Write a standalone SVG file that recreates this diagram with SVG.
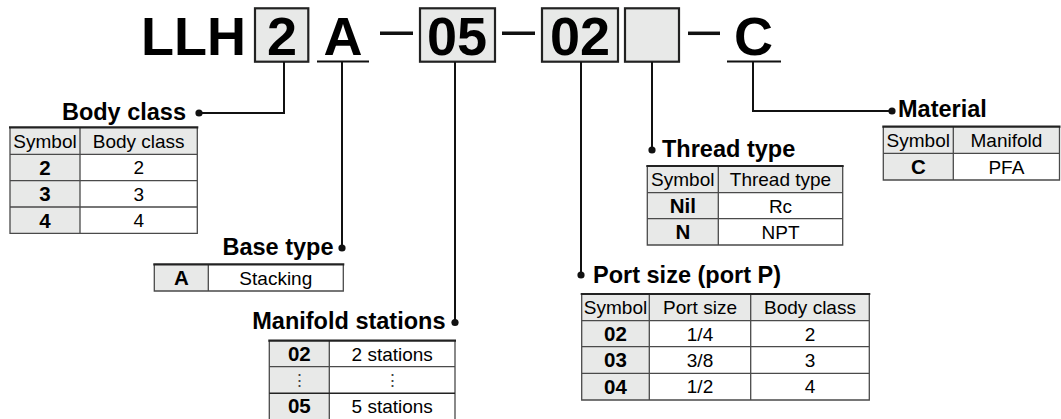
<svg xmlns="http://www.w3.org/2000/svg" width="1061" height="419" viewBox="0 0 1061 419">
<style>
text{font-family:"Liberation Sans",Arial,Helvetica,sans-serif;fill:#000}
.hdr{font-size:54px;font-weight:bold}
.lbl{font-size:23.5px;font-weight:bold}
.th{font-size:19px;text-anchor:middle}
.sym{font-size:20.5px;font-weight:bold;text-anchor:middle}
.dots{font-size:17px;text-anchor:middle;fill:#444}
.g{fill:#e8e9e8}
.w{fill:#fff}
.grid{stroke:#4a4a4a;stroke-width:1.3;fill:none}
.top{stroke:#222;stroke-width:2.2;fill:none}
.box{fill:#e8e9e8;stroke:#222;stroke-width:2.2}
.conn{stroke:#111;stroke-width:2;fill:none}
.dot{fill:#111}
.bar{stroke:#111;stroke-width:2.2}
.dash{stroke:#111;stroke-width:3.5}
</style>

<g id="title">
  <text class="hdr" x="141" y="55">LLH</text>
  <rect class="box" x="255" y="8.3" width="53.3" height="53.4"/>
  <text class="hdr" x="282" y="55" text-anchor="middle">2</text>
  <text class="hdr" x="343" y="55" text-anchor="middle">A</text>
  <line class="bar" x1="317" y1="61.5" x2="369" y2="61.5"/>
  <line class="dash" x1="380" y1="33.3" x2="413" y2="33.3"/>
  <rect class="box" x="420" y="8.3" width="75" height="53.4"/>
  <text class="hdr" x="457" y="55" text-anchor="middle">05</text>
  <line class="dash" x1="502" y1="33.3" x2="535" y2="33.3"/>
  <rect class="box" x="542" y="8.3" width="76" height="53.4"/>
  <text class="hdr" x="580" y="55" text-anchor="middle">02</text>
  <rect class="box" x="625" y="8.3" width="54" height="53.4"/>
  <line class="dash" x1="688" y1="33.3" x2="720" y2="33.3"/>
  <text class="hdr" x="753.5" y="55" text-anchor="middle">C</text>
  <line class="bar" x1="727" y1="61.5" x2="781" y2="61.5"/>
</g>

<g id="connectors">
  <polyline class="conn" points="284,62 284,113 199,113"/>
  <circle class="dot" cx="199" cy="113" r="3.6"/>
  <polyline class="conn" points="342,62 342,248"/>
  <circle class="dot" cx="342" cy="248" r="3.6"/>
  <polyline class="conn" points="455,62 455,322.5"/>
  <circle class="dot" cx="455" cy="322.5" r="3.6"/>
  <polyline class="conn" points="581,62 581,275"/>
  <circle class="dot" cx="581" cy="275" r="3.6"/>
  <polyline class="conn" points="652,62 652,150"/>
  <circle class="dot" cx="652" cy="150" r="3.6"/>
  <polyline class="conn" points="753,62 753,111 892,111"/>
  <circle class="dot" cx="892" cy="111" r="3.6"/>
</g>

<g id="body-class">
  <text class="lbl" x="186" y="120" text-anchor="end">Body class</text>
  <rect class="g" x="10" y="127.3" width="187.3" height="27"/>
  <rect class="g" x="10" y="154.3" width="70" height="79"/>
  <rect class="w" x="80" y="154.3" width="117.3" height="79"/>
  <path class="grid" d="M10,127.3V233.3H197.3V127.3M80,127.3V233.3M10,154.3H197.3M10,180.7H197.3M10,207H197.3"/>
  <line class="top" x1="9" y1="127.3" x2="198.3" y2="127.3"/>
  <text class="th" x="45" y="148">Symbol</text>
  <text class="th" x="138.7" y="148">Body class</text>
  <text class="sym" x="45" y="174.8">2</text>
  <text class="th" x="138.7" y="174.3">2</text>
  <text class="sym" x="45" y="201.1">3</text>
  <text class="th" x="138.7" y="200.6">3</text>
  <text class="sym" x="45" y="227.5">4</text>
  <text class="th" x="138.7" y="227">4</text>
</g>

<g id="base-type">
  <text class="lbl" x="333.5" y="255" text-anchor="end">Base type</text>
  <rect class="g" x="154.3" y="264.3" width="54" height="26.7"/>
  <rect class="w" x="208.3" y="264.3" width="135" height="26.7"/>
  <path class="grid" d="M154.3,264.3V291H343.3V264.3M208.3,264.3V291"/>
  <line class="top" x1="153.3" y1="264.3" x2="344.3" y2="264.3"/>
  <text class="sym" x="181.3" y="285">A</text>
  <text class="th" x="275.8" y="284.5">Stacking</text>
</g>

<g id="manifold-stations">
  <text class="lbl" x="445.5" y="328.5" text-anchor="end">Manifold stations</text>
  <rect class="g" x="269.3" y="340.7" width="60" height="79"/>
  <rect class="w" x="329.3" y="340.7" width="125.7" height="79"/>
  <path class="grid" d="M269.3,420V340.7M455,340.7V420M329.3,340.7V420M269.3,366.7H455"/>
  <line x1="269.3" y1="393.3" x2="455" y2="393.3" stroke="#222" stroke-width="1.5"/>
  <line class="top" x1="268.3" y1="340.7" x2="456" y2="340.7"/>
  <text class="sym" x="299.3" y="361">02</text>
  <text class="th" x="392.2" y="360.5">2 stations</text>
  <text class="dots" x="299.3" y="386">⋮</text>
  <text class="dots" x="392.2" y="386">⋮</text>
  <text class="sym" x="299.3" y="413.2">05</text>
  <text class="th" x="392.2" y="412.7">5 stations</text>
</g>

<g id="thread-type">
  <text class="lbl" x="662" y="157">Thread type</text>
  <rect class="g" x="647.3" y="166" width="195.4" height="26.7"/>
  <rect class="g" x="647.3" y="192.7" width="71" height="52.3"/>
  <rect class="w" x="718.3" y="192.7" width="124.4" height="52.3"/>
  <path class="grid" d="M647.3,166V245H842.7V166M718.3,166V245M647.3,192.7H842.7M647.3,218.7H842.7"/>
  <line class="top" x1="646.3" y1="166" x2="843.7" y2="166"/>
  <text class="th" x="682.8" y="186.3">Symbol</text>
  <text class="th" x="780.5" y="186.3">Thread type</text>
  <text class="sym" x="682.8" y="213">Nil</text>
  <text class="th" x="780.5" y="212.5">Rc</text>
  <text class="sym" x="682.8" y="239.2">N</text>
  <text class="th" x="780.5" y="238.7">NPT</text>
</g>

<g id="port-size">
  <text class="lbl" x="593" y="283.3">Port size (port P)</text>
  <rect class="g" x="581.7" y="294" width="287.6" height="26.7"/>
  <rect class="g" x="581.7" y="320.7" width="67.6" height="79.3"/>
  <rect class="w" x="649.3" y="320.7" width="220" height="79.3"/>
  <path class="grid" d="M581.7,294V400H869.3V294M649.3,294V400M750.7,294V400M581.7,320.7H869.3M581.7,346.7H869.3M581.7,373.3H869.3"/>
  <line class="top" x1="580.7" y1="294" x2="870.3" y2="294"/>
  <text class="th" x="615.5" y="314.3">Symbol</text>
  <text class="th" x="700" y="314.3">Port size</text>
  <text class="th" x="810" y="314.3">Body class</text>
  <text class="sym" x="615.5" y="341">02</text>
  <text class="th" x="700" y="340.5">1/4</text>
  <text class="th" x="810" y="340.5">2</text>
  <text class="sym" x="615.5" y="367.3">03</text>
  <text class="th" x="700" y="366.8">3/8</text>
  <text class="th" x="810" y="366.8">3</text>
  <text class="sym" x="615.5" y="393.9">04</text>
  <text class="th" x="700" y="393.4">1/2</text>
  <text class="th" x="810" y="393.4">4</text>
</g>

<g id="material">
  <text class="lbl" x="898" y="117">Material</text>
  <rect class="g" x="883.3" y="126.7" width="176.2" height="26.6"/>
  <rect class="g" x="883.3" y="153.3" width="70" height="26.7"/>
  <rect class="w" x="953.3" y="153.3" width="106.2" height="26.7"/>
  <path class="grid" d="M883.3,126.7V180H1059.5V126.7M953.3,126.7V180M883.3,153.3H1059.5"/>
  <line class="top" x1="882.3" y1="126.7" x2="1060.5" y2="126.7"/>
  <text class="th" x="918.3" y="147">Symbol</text>
  <text class="th" x="1006.4" y="147">Manifold</text>
  <text class="sym" x="918.3" y="174">C</text>
  <text class="th" x="1006.4" y="173.5">PFA</text>
</g>
</svg>
